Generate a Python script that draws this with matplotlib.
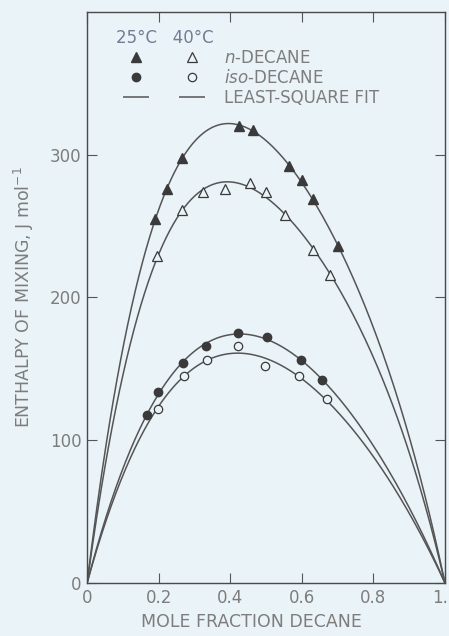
import numpy as np
import matplotlib.pyplot as plt
from matplotlib.lines import Line2D
from matplotlib.legend_handler import HandlerTuple

# n-decane, 25 C (filled triangles)
x_n25 = [0.190, 0.224, 0.266, 0.425, 0.463, 0.563, 0.600, 0.631, 0.700]
h_n25 = [255, 276, 298, 320, 317, 292, 282, 269, 236]
# n-decane, 40 C (open triangles)
x_n40 = [0.194, 0.266, 0.325, 0.386, 0.456, 0.500, 0.553, 0.630, 0.680]
h_n40 = [229, 261, 274, 276, 280, 274, 258, 233, 216]
# iso-decane, 25 C (filled circles)
x_i25 = [0.168, 0.198, 0.269, 0.331, 0.422, 0.502, 0.598, 0.657]
h_i25 = [118, 134, 154, 166, 175, 172, 156, 142]
# iso-decane, 40 C (open circles)
x_i40 = [0.198, 0.271, 0.334, 0.422, 0.497, 0.591, 0.669]
h_i40 = [122, 145, 156, 166, 152, 145, 129]

x_ticks = [0, 0.2, 0.4, 0.6, 0.8, 1.0]
x_ticklabels = ["0", "0.2", "0.4", "0.6", "0.8", "1.0"]
y_ticks = [0, 100, 200, 300]

BG = "#eaf3f7"
TXT = "#7d7d7d"
INK = "#3a3a3a"
LINE = "#555555"


def rk_fit(x, h, nterm=3):
    # Redlich-Kister least-squares fit: H = x(1-x) * sum a_k (2x-1)^k
    x = np.asarray(x, float)
    h = np.asarray(h, float)
    A = np.column_stack([x * (1 - x) * (2 * x - 1) ** k for k in range(nterm)])
    coef, *_ = np.linalg.lstsq(A, h, rcond=None)
    xx = np.linspace(0, 1, 300)
    B = np.column_stack([xx * (1 - xx) * (2 * xx - 1) ** k for k in range(nterm)])
    return xx, B @ coef


fig = plt.figure(figsize=(4.49, 6.36), dpi=100, facecolor=BG)
ax = fig.add_axes([0.194, 0.0833, 0.797, 0.898], facecolor=BG)

for xs, hs in [(x_n25, h_n25), (x_n40, h_n40), (x_i25, h_i25), (x_i40, h_i40)]:
    xx, yy = rk_fit(xs, hs)
    ax.plot(xx, yy, color=LINE, lw=1.1, zorder=2)

ax.plot(x_n25, h_n25, ls="none", marker="^", ms=7, mfc=INK, mec=INK, zorder=3)
ax.plot(x_n40, h_n40, ls="none", marker="^", ms=7, mfc=BG, mec=INK, mew=0.9, zorder=3)
ax.plot(x_i25, h_i25, ls="none", marker="o", ms=6, mfc=INK, mec=INK, zorder=3)
ax.plot(x_i40, h_i40, ls="none", marker="o", ms=6, mfc=BG, mec=INK, mew=0.9, zorder=3)

ax.set_xlim(0, 1)
ax.set_ylim(0, 400)
ax.set_xticks(x_ticks)
ax.set_xticklabels(x_ticklabels)
ax.set_yticks(y_ticks)
ax.tick_params(direction="in", length=7, width=0.8, color=LINE,
               labelcolor=TXT, labelsize=12, top=True, right=True, pad=4)
for s in ax.spines.values():
    s.set_color("#4a4a4a")
    s.set_linewidth(1.0)

ax.set_xlabel("MOLE FRACTION DECANE", color=TXT, fontsize=12.5)
ax.xaxis.set_label_coords(0.458, -0.053)
ax.set_ylabel("ENTHALPY OF MIXING, J mol$^{-1}$", color=TXT, fontsize=12.5, labelpad=10)

# legend keys: two columns (25 C, 40 C) of markers, short dashes for the fits
h_tri = (Line2D([], [], ls="none", marker="^", ms=7, mfc=INK, mec=INK),
         Line2D([], [], ls="none", marker="^", ms=7, mfc=BG, mec=INK, mew=0.9))
h_cir = (Line2D([], [], ls="none", marker="o", ms=6, mfc=INK, mec=INK),
         Line2D([], [], ls="none", marker="o", ms=6, mfc=BG, mec=INK, mew=0.9))
h_fit = (Line2D([], [], ls="none", marker="_", ms=19, mec=LINE, mew=1.1),
         Line2D([], [], ls="none", marker="_", ms=19, mec=LINE, mew=1.1))
leg = ax.legend([h_tri, h_cir, h_fit],
                ["$n$-DECANE", "$\\it{iso}$-DECANE", "LEAST-SQUARE FIT"],
                handler_map={tuple: HandlerTuple(ndivide=None, pad=0.95)},
                title="25°C   40°C", loc="upper left",
                bbox_to_anchor=(0.082, 0.970), frameon=False, fontsize=12,
                title_fontsize=12, handlelength=5.75, handletextpad=0.7,
                labelspacing=0.11, borderpad=0, borderaxespad=0)
leg._legend_box.align = "left"
for t in leg.get_texts():
    t.set_color(TXT)
leg.get_title().set_color("#717c96")

fig.savefig("out.png", dpi=100, facecolor=BG)
